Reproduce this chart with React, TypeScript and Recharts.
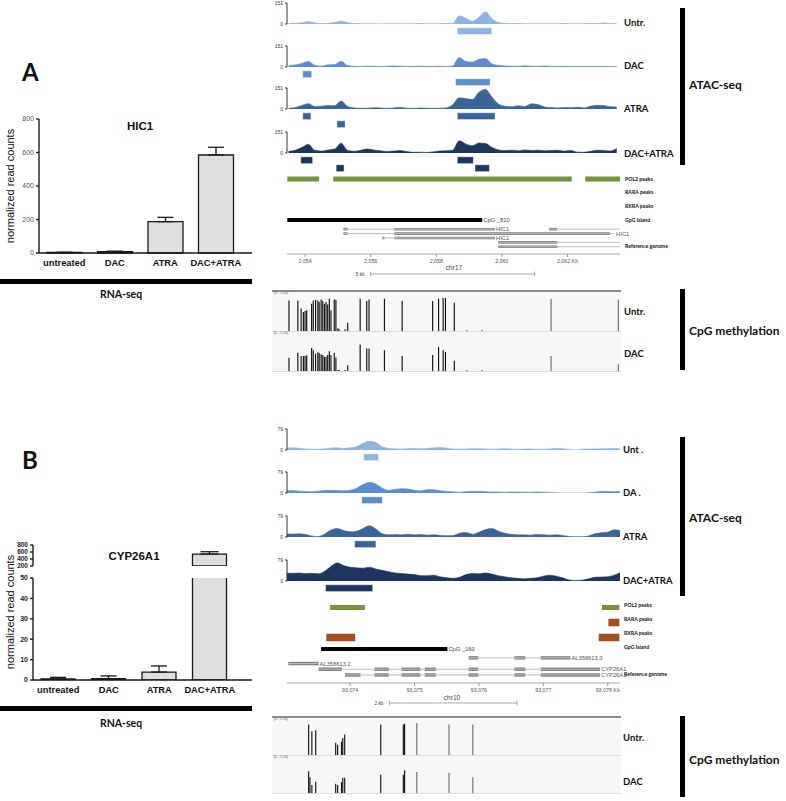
import React from 'react';
import {
  BarChart, Bar, XAxis, YAxis, ErrorBar, Cell, AreaChart, Area,
  ComposedChart, ReferenceArea, ReferenceLine,
} from 'recharts';

const SANS = '"Liberation Sans", Arial, sans-serif';
const HEAD = 'Lato, "Open Sans", sans-serif';

// ---------- RNA-seq bar charts ----------
const conditions = ['untreated', 'DAC', 'ATRA', 'DAC+ATRA'];
const hic1Mean = [3, 8, 187, 585];
const hic1Err = [1, 3, 26, 46];
const hic1Ticks = [0, 200, 400, 600, 800];
const cypMean = [0.5, 0.7, 3.9, 540];
const cypErr = [0.8, 1.3, 3.0, 68];
const cypLowTicks = [0, 10, 20, 30, 40, 50];
const cypHighTicks = [200, 400, 600, 800];

// ---------- ATAC-seq coverage, HIC1 locus (kb on chr17) ----------
const A_START = 2053.5;
const A_STEP = 0.2;
const atacAUntr = [3, 4, 9, 18, 8, 3, 4, 11, 22, 9, 3, 2, 2, 2, 1, 2, 2, 2, 1, 2, 3, 2, 2, 2, 3, 4, 58, 42, 20, 48, 88, 38, 10, 5, 3, 3, 2, 2, 2, 2, 2, 2, 3, 2, 2, 2, 3, 4, 8, 3, 2];
const atacADac = [10, 15, 25, 40, 12, 6, 16, 18, 42, 10, 5, 4, 6, 5, 4, 6, 8, 6, 4, 5, 6, 5, 4, 5, 4, 8, 68, 40, 36, 55, 62, 22, 12, 8, 6, 5, 9, 6, 5, 8, 5, 4, 5, 4, 3, 4, 3, 3, 4, 3, 3];
const atacAAtra = [5, 10, 25, 38, 18, 20, 26, 24, 58, 18, 8, 5, 6, 9, 7, 5, 8, 10, 6, 5, 7, 6, 5, 6, 8, 30, 80, 75, 68, 120, 140, 85, 35, 20, 16, 24, 18, 38, 32, 15, 10, 8, 10, 9, 12, 8, 20, 26, 25, 16, 15];
const atacADacAtra = [12, 20, 40, 62, 20, 14, 22, 28, 70, 18, 12, 20, 28, 22, 16, 10, 14, 18, 10, 5, 6, 4, 8, 14, 16, 20, 88, 65, 52, 72, 68, 40, 22, 18, 20, 16, 22, 18, 20, 16, 18, 20, 14, 18, 6, 5, 12, 20, 18, 14, 32];

const peaksAUntr = [{ row: 0, start: 2058.64, end: 2059.69 }];
const peaksADac = [{ row: 0, start: 2053.93, end: 2054.2 }, { row: 1, start: 2058.59, end: 2059.64 }];
const peaksAAtra = [{ row: 0, start: 2053.93, end: 2054.18 }, { row: 0, start: 2058.64, end: 2059.79 }, { row: 1, start: 2054.97, end: 2055.22 }];
const peaksADacAtra = [{ row: 0, start: 2053.87, end: 2054.23 }, { row: 0, start: 2058.64, end: 2059.13 }, { row: 1, start: 2054.95, end: 2055.19 }, { row: 1, start: 2059.18, end: 2059.62 }];

const pol2A = [[2053.46, 2054.43], [2054.86, 2062.13], [2062.54, 2063.6]];
const raraA: number[][] = [];
const rxraA: number[][] = [];
const cpgA = { name: 'CpG:_810', start: 2053.46, end: 2059.4 };
const genesA = [
  { row: 0, name: 'HIC1', start: 2055.17, end: 2059.79, exons: [[2055.17, 2055.3], [2056.72, 2059.79]] },
  { row: 0, name: '', start: 2061.44, end: 2063.6, exons: [[2061.44, 2061.68]] },
  { row: 1, name: 'HIC1', start: 2055.17, end: 2063.45, exons: [[2055.17, 2055.3], [2056.72, 2063.3]] },
  { row: 2, name: 'HIC1', start: 2056.36, end: 2059.79, exons: [[2056.36, 2056.42], [2056.72, 2059.79]] },
  { row: 3, name: '', start: 2059.89, end: 2063.6, exons: [[2059.89, 2061.69]] },
  { row: 4, name: '', start: 2059.89, end: 2063.6, exons: [[2059.89, 2061.69]] },
];
const axisTicksA = [2054, 2056, 2058, 2060, 2062];

const methAPos = [2053.51, 2053.78, 2053.88, 2053.95, 2054.0, 2054.05, 2054.2, 2054.25, 2054.32, 2054.39, 2054.43, 2054.49, 2054.54, 2054.59, 2054.64, 2054.69, 2054.74, 2054.79, 2054.89, 2054.94, 2055.0, 2055.04, 2055.22, 2055.3, 2055.68, 2055.88, 2055.95, 2056.42, 2056.96, 2057.89, 2058.07, 2058.21, 2058.28, 2058.55, 2058.93, 2059.4, 2061.5, 2063.55];
const methAUntr = [0.9, 0.9, 0.66, 0.56, 0.59, 0.61, 0.8, 0.9, 0.92, 0.9, 0.85, 0.93, 0.88, 0.8, 0.85, 0.78, 0.95, 0.61, 0.93, 0.92, 0.08, 0.05, 0.05, 0.24, 0.95, 0.88, 0.93, 0.95, 0.88, 0.88, 0.95, 0.97, 0.97, 0.83, 0.02, 0.02, 0.95, 0.93];
const methADac = [0.39, 0.54, 0.44, 0.44, 0.44, 0.46, 0.68, 0.61, 0.51, 0.55, 0.53, 0.49, 0.46, 0.42, 0.42, 0.47, 0.58, 0.47, 0.53, 0.4, 0.03, 0.03, 0.03, 0.17, 0.78, 0.66, 0.66, 0.61, 0.44, 0.47, 0.71, 0.61, 0.56, 0.3, 0.02, 0.02, 0.44, 0.2];

// ---------- ATAC-seq coverage, CYP26A1 locus (kb on chr10) ----------
const B_START = 93073.0;
const B_STEP = 0.1;
const atacBUntr = [6, 8, 7, 4, 3, 3, 5, 7, 8, 6, 8, 12, 25, 33, 28, 12, 6, 5, 4, 5, 6, 5, 6, 8, 9, 7, 4, 3, 4, 5, 5, 4, 3, 4, 5, 4, 3, 4, 4, 3, 3, 4, 6, 5, 2, 0, 3, 4, 4, 5, 5, 6, 5];
const atacBDac = [8, 9, 7, 6, 5, 7, 9, 10, 9, 8, 10, 18, 32, 40, 34, 18, 10, 14, 16, 15, 10, 8, 13, 12, 8, 6, 4, 3, 5, 6, 6, 5, 4, 4, 3, 4, 4, 3, 3, 4, 3, 2, 1, 0, 0, 0, 0, 1, 3, 6, 6, 5, 6];
const atacBAtra = [12, 11, 12, 10, 4, 2, 10, 26, 32, 24, 20, 22, 32, 42, 30, 12, 8, 9, 8, 10, 8, 9, 7, 8, 6, 5, 6, 14, 17, 10, 18, 28, 32, 22, 14, 10, 8, 8, 7, 9, 8, 7, 8, 6, 2, 1, 1, 4, 12, 16, 18, 27, 24];
const atacBDacAtra = [30, 29, 30, 28, 29, 27, 36, 55, 68, 58, 52, 50, 48, 52, 45, 40, 35, 30, 28, 26, 24, 20, 20, 22, 16, 12, 10, 14, 24, 28, 27, 30, 26, 20, 16, 12, 10, 8, 10, 12, 18, 22, 18, 12, 4, 2, 3, 8, 14, 15, 16, 22, 32];

const peaksBUntr = [{ row: 0, start: 93074.21, end: 93074.44 }];
const peaksBDac = [{ row: 0, start: 93074.18, end: 93074.5 }];
const peaksBAtra = [{ row: 0, start: 93074.07, end: 93074.4 }];
const peaksBDacAtra = [{ row: 0, start: 93073.62, end: 93074.35 }];

const pol2B = [[93073.69, 93074.23], [93077.91, 93078.18]];
const raraB = [[93078.01, 93078.18]];
const rxraB = [[93073.63, 93074.08], [93077.86, 93078.18]];
const cpgB = { name: 'CpG:_160', start: 93073.55, end: 93075.51 };
const genesB = [
  { row: 0, name: 'AL358613.3', start: 93075.84, end: 93077.42, exons: [[93075.84, 93075.99], [93076.55, 93076.72], [93076.96, 93077.42]] },
  { row: 1, name: 'AL358613.2', start: 93073.04, end: 93073.51, exons: [[93073.04, 93073.51]] },
  { row: 2, name: 'CYP26A1', start: 93073.51, end: 93077.88, exons: [[93073.51, 93073.87], [93074.38, 93074.6], [93074.8, 93075.09], [93075.16, 93075.33], [93075.84, 93075.99], [93076.55, 93076.72], [93076.96, 93077.88]] },
  { row: 3, name: 'CYP26A1', start: 93073.92, end: 93077.88, exons: [[93073.92, 93074.16], [93074.38, 93074.6], [93074.8, 93075.09], [93075.16, 93075.33], [93075.84, 93075.99], [93076.55, 93076.72], [93076.96, 93077.88]] },
];
const axisTicksB = [93074, 93075, 93076, 93077, 93078];

const methBPos = [93073.36, 93073.38, 93073.41, 93073.47, 93073.78, 93073.81, 93073.87, 93073.89, 93073.92, 93074.48, 93074.83, 93074.85, 93075.04, 93075.54, 93075.91];
const methBUntr = [0.95, 0, 0.74, 0.77, 0.38, 0.32, 0.41, 0.53, 0.64, 0.95, 0.95, 0.98, 1.0, 0.95, 0.95];
const methBDac = [0.7, 0.51, 0.26, 0.36, 0.3, 0.26, 0.35, 0.49, 0.49, 0.59, 0.59, 0.73, 0.68, 0.65, 0.51];

// ---------- layout ----------
const A_DOMAIN: [number, number] = [2053.45, 2063.6];
const B_DOMAIN: [number, number] = [93073.02, 93078.19];
const A_METH_DOMAIN: [number, number] = [2052.99, 2063.63];
const B_METH_DOMAIN: [number, number] = [93072.79, 93078.21];
const TRACK_LEFT = 287;
const TRACK_W = 333;
const SCALE_W = 19;

const COLORS = {
  untr: '#8fb3e0',
  dac: '#5a8ecf',
  atra: '#3a6399',
  dacAtra: '#1d365f',
  pol2: '#76923c',
  rxr: '#a2501f',
  bar: '#dedede',
  ink: '#1a1a1a',
};

function T({ x, y, size, children, bold = true, font = HEAD, color = '#111', anchor = 'start' }: any) {
  return (
    <div
      style={{
        position: 'absolute', left: x, top: y - size / 2, fontSize: size, lineHeight: `${size}px`,
        fontFamily: font, fontWeight: bold ? 700 : 400, color, whiteSpace: 'nowrap',
        transform: anchor === 'middle' ? 'translateX(-50%)' : undefined,
      }}
    >
      {children}
    </div>
  );
}

function Box({ x, y, w, h, color = '#000' }: any) {
  return <div style={{ position: 'absolute', left: x, top: y, width: w, height: h, background: color }} />;
}

function YLabel({ x, y, children }: any) {
  return (
    <div
      style={{
        position: 'absolute', left: x, top: y, fontFamily: SANS, fontSize: 11, color: '#111',
        whiteSpace: 'nowrap', transform: 'translate(-50%, -50%) rotate(-90deg)',
      }}
    >
      {children}
    </div>
  );
}

// coverage track: 21px tall plot, baseline at top + 24, with a little room below for the "0" label
function AtacTrack({ top, values, start, step, domain, max, color }: any) {
  const data = values.map((v: number, i: number) => ({ pos: start + i * step, v }));
  return (
    <div style={{ position: 'absolute', left: TRACK_LEFT - SCALE_W, top: top - 1 }}>
      <AreaChart width={TRACK_W + SCALE_W} height={29} data={data} margin={{ top: 4, right: 0, bottom: 4, left: 0 }}>
        <XAxis type="number" dataKey="pos" domain={domain} allowDataOverflow hide />
        <YAxis
          domain={[0, max]} ticks={[0, max]} interval={0} width={SCALE_W} tickSize={2} allowDataOverflow
          tick={{ fontSize: 5, fill: '#333', fontFamily: SANS }} tickLine={{ stroke: '#333' }} axisLine={{ stroke: '#333' }}
        />
        <Area type="monotone" dataKey="v" stroke={color} strokeWidth={0.6} fill={color} fillOpacity={1} dot={false} activeDot={false} isAnimationActive={false} />
      </AreaChart>
    </div>
  );
}

function LaneChart({ top, rows, height, domain, extraRight = 0, children }: any) {
  return (
    <div style={{ position: 'absolute', left: TRACK_LEFT, top }}>
      <ComposedChart
        width={TRACK_W + extraRight} height={height}
        data={[{ pos: domain[0] }, { pos: domain[1] }]}
        margin={{ top: 0, right: extraRight, bottom: 0, left: 0 }}
      >
        <XAxis type="number" dataKey="pos" domain={domain} allowDataOverflow hide />
        <YAxis type="number" domain={[0, rows]} reversed allowDataOverflow hide />
        {children}
      </ComposedChart>
    </div>
  );
}

function Peaks({ top, peaks, color, domain }: any) {
  return (
    <LaneChart top={top} rows={2} height={16} domain={domain}>
      {peaks.map((p: any, i: number) => (
        <ReferenceArea key={i} x1={p.start} x2={p.end} y1={p.row + 0.1} y2={p.row + 0.95}
          fill={color} fillOpacity={1} stroke="#ffffff" strokeWidth={0.4} ifOverflow="visible" />
      ))}
    </LaneChart>
  );
}

function Binding({ top, laneH, domain, pol2, rara, rxra }: any) {
  const lanes = [
    { items: pol2, color: COLORS.pol2, t: 0.34 },
    { items: rara, color: COLORS.rxr, t: 0.5 },
    { items: rxra, color: COLORS.rxr, t: 0.5 },
  ];
  return (
    <LaneChart top={top} rows={3} height={laneH * 3} domain={domain}>
      {lanes.flatMap((l, li) => l.items.map((it: number[], i: number) => (
        <ReferenceArea key={`${li}-${i}`} x1={it[0]} x2={it[1]} y1={li + 0.5 - l.t / 2} y2={li + 0.5 + l.t / 2}
          fill={l.color} fillOpacity={1} stroke="none" ifOverflow="visible" />
      )))}
    </LaneChart>
  );
}

function Island({ top, domain, island }: any) {
  return (
    <LaneChart top={top} rows={1} height={8} domain={domain} extraRight={40}>
      <ReferenceArea x1={island.start} x2={island.end} y1={0.25} y2={0.75} fill="#000" fillOpacity={1} stroke="none" ifOverflow="visible"
        label={{ value: island.name, position: 'right', offset: 1, fontSize: 5.8, fill: '#444', fontFamily: SANS }} />
    </LaneChart>
  );
}

function Genes({ top, rows, rowH, domain, genes }: any) {
  return (
    <LaneChart top={top} rows={rows} height={rows * rowH} domain={domain} extraRight={30}>
      {genes.map((g: any, gi: number) => (
        <ReferenceLine key={`l${gi}`} segment={[{ x: g.start, y: g.row + 0.5 }, { x: g.end, y: g.row + 0.5 }]}
          stroke="#bdbdbd" strokeWidth={1} ifOverflow="visible"
          label={g.name ? { value: g.name, position: 'right', offset: 1, fontSize: 5.8, fill: '#555', fontFamily: SANS } : undefined} />
      ))}
      {genes.flatMap((g: any, gi: number) => g.exons.map((e: number[], ei: number) => (
        <ReferenceArea key={`e${gi}-${ei}`} x1={e[0]} x2={e[1]} y1={g.row + 0.2} y2={g.row + 0.8}
          fill="#808080" fillOpacity={1} stroke="none" ifOverflow="visible" />
      )))}
    </LaneChart>
  );
}

function CoordAxis({ top, domain, ticks }: any) {
  const last = ticks[ticks.length - 1];
  return (
    <div style={{ position: 'absolute', left: TRACK_LEFT, top }}>
      <ComposedChart width={TRACK_W + 12} height={18} data={[{ pos: domain[0] }, { pos: domain[1] }]}
        margin={{ top: 0, right: 12, bottom: 0, left: 0 }}>
        <XAxis type="number" dataKey="pos" domain={domain} ticks={ticks} interval={0} height={16} tickSize={3}
          tick={{ fontSize: 5.3, fill: '#555', fontFamily: SANS }} tickLine={{ stroke: '#999' }} axisLine={{ stroke: '#aaa' }}
          tickFormatter={(v: number) => v.toLocaleString('en-US') + (v === last ? ' Kb' : '')} />
        <YAxis hide domain={[0, 1]} />
      </ComposedChart>
    </div>
  );
}

function ScaleBar({ top, domain, from, to, label }: any) {
  return (
    <LaneChart top={top} rows={1} height={6} domain={domain}>
      <ReferenceLine segment={[{ x: from, y: 0.5 }, { x: to, y: 0.5 }]} stroke="#888" strokeWidth={0.7} ifOverflow="visible"
        label={{ value: label, position: 'left', offset: 6, fontSize: 4.7, fill: '#444', fontFamily: SANS }} />
      <ReferenceLine segment={[{ x: from, y: 0.1 }, { x: from, y: 0.9 }]} stroke="#888" strokeWidth={0.7} ifOverflow="visible" />
      <ReferenceLine segment={[{ x: to, y: 0.1 }, { x: to, y: 0.9 }]} stroke="#888" strokeWidth={0.7} ifOverflow="visible" />
    </LaneChart>
  );
}

function MethylRow({ top, height, pos, vals, domain, grayFrom }: any) {
  const data = pos.map((p: number, i: number) => ({ pos: p, v: vals[i] }));
  return (
    <div style={{ position: 'absolute', left: 272, top }}>
      <BarChart width={349} height={height} data={data} margin={{ top: 6, right: 0, bottom: 0, left: 0 }}>
        <XAxis type="number" dataKey="pos" domain={domain} hide />
        <YAxis domain={[0, 1]} hide />
        <Bar dataKey="v" barSize={2} isAnimationActive={false}>
          {data.map((d: any, i: number) => (
            <Cell key={i} fill={d.pos > grayFrom ? '#707070' : '#141414'} />
          ))}
        </Bar>
      </BarChart>
    </div>
  );
}

function MethylBox({ top, mid, bottom }: any) {
  return (
    <>
      <div style={{ position: 'absolute', left: 272, top, width: 349, height: bottom - top, background: '#f7f7f7', borderTop: '2px solid #8c8c8c', borderBottom: '1px solid #dcdcdc', boxSizing: 'border-box' }} />
      <Box x={272} y={mid} w={349} h={1} color="#dcdcdc" />
      <T x={274} y={top + 4} size={3.5} bold={false} font={SANS} color="#666">[0 - 1.00]</T>
      <T x={274} y={mid + 3} size={3.5} bold={false} font={SANS} color="#666">[0 - 1.00]</T>
    </>
  );
}

export default function App() {
  const hic1Data = conditions.map((name, i) => ({ name, value: hic1Mean[i], err: [0, hic1Err[i]] }));
  const cypData = conditions.map((name, i) => ({ name, value: cypMean[i], err: [0, cypErr[i]] }));
  const cypHighData = conditions.map((name, i) => ({
    name,
    value: cypMean[i] > cypHighTicks[0] ? cypMean[i] : null,
    err: cypMean[i] > cypHighTicks[0] ? [0, cypErr[i]] : null,
  }));

  const axisStroke = { stroke: COLORS.ink, strokeWidth: 1.4 };
  const xTick = { fontSize: 9.3, fill: '#111', fontWeight: 700, fontFamily: SANS };

  return (
    <div style={{ position: 'absolute', left: 0, top: 0, width: 786, height: 801, background: '#fff', overflow: 'hidden', fontFamily: SANS }}>
      {/* ---------------- Panel A ---------------- */}
      <T x={22} y={72} size={24}>A</T>
      <T x={140} y={127} size={11.5} font={SANS} anchor="middle">HIC1</T>
      <YLabel x={10} y={186}>normalized read counts</YLabel>
      <div style={{ position: 'absolute', left: 0, top: 114 }}>
        <BarChart width={254} height={155} data={hic1Data} margin={{ top: 5, right: 2, bottom: 0, left: 0 }}>
          <XAxis dataKey="name" interval={0} height={16} tickSize={4} tickLine={false} tick={xTick}
            axisLine={axisStroke} padding={{ left: 0, right: 11 }} />
          <YAxis domain={[0, 800]} ticks={hic1Ticks} interval={0} width={39} tickSize={3}
            tick={{ fontSize: 7, fill: '#555', fontFamily: SANS }} tickLine={axisStroke} axisLine={axisStroke} />
          <Bar dataKey="value" fill={COLORS.bar} stroke={COLORS.ink} strokeWidth={1.3} barSize={35} isAnimationActive={false}>
            <ErrorBar dataKey="err" width={8} stroke={COLORS.ink} strokeWidth={1.3} direction="y" />
          </Bar>
        </BarChart>
      </div>
      <Box x={0} y={279} w={252} h={4.5} />
      <T x={121} y={294} size={10.5} anchor="middle">RNA-seq</T>

      <AtacTrack top={0} values={atacAUntr} start={A_START} step={A_STEP} domain={A_DOMAIN} max={151} color={COLORS.untr} />
      <Peaks top={26.5} peaks={peaksAUntr} color={COLORS.untr} domain={A_DOMAIN} />
      <AtacTrack top={42.7} values={atacADac} start={A_START} step={A_STEP} domain={A_DOMAIN} max={151} color={COLORS.dac} />
      <Peaks top={69.7} peaks={peaksADac} color={COLORS.dac} domain={A_DOMAIN} />
      <AtacTrack top={85.3} values={atacAAtra} start={A_START} step={A_STEP} domain={A_DOMAIN} max={151} color={COLORS.atra} />
      <Peaks top={112.3} peaks={peaksAAtra} color={COLORS.atra} domain={A_DOMAIN} />
      <AtacTrack top={128.7} values={atacADacAtra} start={A_START} step={A_STEP} domain={A_DOMAIN} max={151} color={COLORS.dacAtra} />
      <Peaks top={155.7} peaks={peaksADacAtra} color={COLORS.dacAtra} domain={A_DOMAIN} />

      <Binding top={172.2} laneH={14} domain={A_DOMAIN} pol2={pol2A} rara={raraA} rxra={rxraA} />
      <Island top={216.3} domain={A_DOMAIN} island={cpgA} />
      <Genes top={226.8} rows={5} rowH={4.4} domain={A_DOMAIN} genes={genesA} />
      <CoordAxis top={252.3} domain={A_DOMAIN} ticks={axisTicksA} />
      <T x={454} y={268} size={6.5} bold={false} font={SANS} color="#444" anchor="middle">chr17</T>
      <ScaleBar top={271} domain={A_DOMAIN} from={2056.0} to={2061.0} label="5 kb" />

      <T x={624} y={23} size={9.5}>Untr.</T>
      <T x={624} y={66} size={9.5}>DAC</T>
      <T x={624} y={109} size={9.5}>ATRA</T>
      <T x={624} y={154} size={9.5}>DAC+ATRA</T>
      <Box x={680} y={8} w={4.5} h={157} />
      <T x={689} y={85} size={12}>ATAC-seq</T>
      <T x={625} y={180} size={5.2}>POL2 peaks</T>
      <T x={625} y={193} size={5.2}>RARA peaks</T>
      <T x={625} y={207} size={5.2}>RXRA peaks</T>
      <T x={625} y={221} size={5.2}>GpG Island</T>
      <T x={625} y={247} size={5.2}>Reference genome</T>

      <MethylBox top={290} mid={331} bottom={372} />
      <MethylRow top={291} height={40} pos={methAPos} vals={methAUntr} domain={A_METH_DOMAIN} grayFrom={2060} />
      <MethylRow top={331} height={40} pos={methAPos} vals={methADac} domain={A_METH_DOMAIN} grayFrom={2060} />
      <T x={624} y={312} size={9.5}>Untr.</T>
      <T x={624} y={354} size={9.5}>DAC</T>
      <Box x={680} y={289} w={4.5} h={81} />
      <T x={689} y={331} size={12}>CpG methylation</T>

      {/* ---------------- Panel B ---------------- */}
      <T x={22} y={460} size={24}>B</T>
      <T x={134} y={557} size={11.5} font={SANS} anchor="middle">CYP26A1</T>
      <YLabel x={10} y={612}>normalized read counts</YLabel>
      <div style={{ position: 'absolute', left: 0, top: 540 }}>
        <BarChart width={254} height={30} data={cypHighData} margin={{ top: 5, right: 2, bottom: 4, left: 0 }}>
          <XAxis dataKey="name" hide padding={{ left: 0, right: 17 }} />
          <YAxis domain={[200, 800]} ticks={cypHighTicks} interval={0} width={33} tickSize={3} allowDataOverflow
            tick={{ fontSize: 6.5, fill: '#222', fontWeight: 700, fontFamily: SANS }} tickLine={axisStroke} axisLine={axisStroke} />
          <Bar dataKey="value" fill={COLORS.bar} stroke={COLORS.ink} strokeWidth={1.3} barSize={34} isAnimationActive={false}>
            <ErrorBar dataKey="err" width={9} stroke={COLORS.ink} strokeWidth={1.3} direction="y" />
          </Bar>
        </BarChart>
      </div>
      <div style={{ position: 'absolute', left: 0, top: 573 }}>
        <BarChart width={254} height={123} data={cypData} margin={{ top: 5, right: 2, bottom: 0, left: 0 }}>
          <XAxis dataKey="name" interval={0} height={16} tickSize={4} tickLine={false} tick={xTick}
            axisLine={axisStroke} padding={{ left: 0, right: 17 }} />
          <YAxis domain={[0, 50]} ticks={cypLowTicks} interval={0} width={33} tickSize={3} allowDataOverflow
            tick={{ fontSize: 7, fill: '#222', fontWeight: 700, fontFamily: SANS }} tickLine={axisStroke} axisLine={axisStroke} />
          <Bar dataKey="value" fill={COLORS.bar} stroke={COLORS.ink} strokeWidth={1.3} barSize={34} isAnimationActive={false}>
            <ErrorBar dataKey="err" width={8} stroke={COLORS.ink} strokeWidth={1.3} direction="y" />
          </Bar>
        </BarChart>
      </div>
      <Box x={0} y={706} w={252} h={4.5} />
      <T x={121} y={723} size={10.5} anchor="middle">RNA-seq</T>

      <AtacTrack top={426} values={atacBUntr} start={B_START} step={B_STEP} domain={B_DOMAIN} max={79} color={COLORS.untr} />
      <Peaks top={453} peaks={peaksBUntr} color={COLORS.untr} domain={B_DOMAIN} />
      <AtacTrack top={469.3} values={atacBDac} start={B_START} step={B_STEP} domain={B_DOMAIN} max={79} color={COLORS.dac} />
      <Peaks top={496.3} peaks={peaksBDac} color={COLORS.dac} domain={B_DOMAIN} />
      <AtacTrack top={513.3} values={atacBAtra} start={B_START} step={B_STEP} domain={B_DOMAIN} max={79} color={COLORS.atra} />
      <Peaks top={540.3} peaks={peaksBAtra} color={COLORS.atra} domain={B_DOMAIN} />
      <AtacTrack top={556.7} values={atacBDacAtra} start={B_START} step={B_STEP} domain={B_DOMAIN} max={79} color={COLORS.dacAtra} />
      <Peaks top={583.7} peaks={peaksBDacAtra} color={COLORS.dacAtra} domain={B_DOMAIN} />

      <Binding top={600} laneH={15} domain={B_DOMAIN} pol2={pol2B} rara={raraB} rxra={rxraB} />
      <Island top={644.8} domain={B_DOMAIN} island={cpgB} />
      <Genes top={654.9} rows={4} rowH={5.7} domain={B_DOMAIN} genes={genesB} />
      <CoordAxis top={681.3} domain={B_DOMAIN} ticks={axisTicksB} />
      <T x={452} y={698} size={6.5} bold={false} font={SANS} color="#444" anchor="middle">chr10</T>
      <ScaleBar top={700} domain={B_DOMAIN} from={93074.61} to={93076.59} label="2 kb" />

      <T x={623} y={450} size={9.5}>Unt .</T>
      <T x={623} y={493} size={9.5}>DA .</T>
      <T x={623} y={537} size={9.5}>ATRA</T>
      <T x={623} y={581} size={9.5}>DAC+ATRA</T>
      <Box x={680} y={437} w={4.5} h={159} />
      <T x={689} y={518} size={12}>ATAC-seq</T>
      <T x={624} y={606} size={5.2}>POL2 peaks</T>
      <T x={624} y={620} size={5.2}>RARA peaks</T>
      <T x={624} y={634} size={5.2}>RXRA peaks</T>
      <T x={624} y={648} size={5.2}>GpG Island</T>
      <T x={624} y={675} size={5.2}>Reference genome</T>

      <MethylBox top={716} mid={755} bottom={794} />
      <MethylRow top={717} height={38} pos={methBPos} vals={methBUntr} domain={B_METH_DOMAIN} grayFrom={93075.0} />
      <MethylRow top={755.5} height={37} pos={methBPos} vals={methBDac} domain={B_METH_DOMAIN} grayFrom={93075.0} />
      <T x={623} y={738} size={9.5}>Untr.</T>
      <T x={623} y={782} size={9.5}>DAC</T>
      <Box x={680} y={716} w={4.5} h={81} />
      <T x={689} y={760} size={12}>CpG methylation</T>
    </div>
  );
}
